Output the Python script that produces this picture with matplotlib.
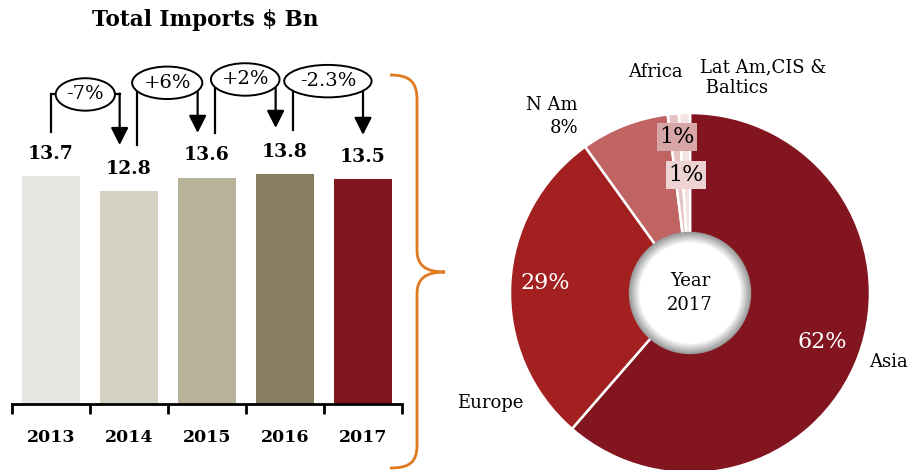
import matplotlib.pyplot as plt
import numpy as np
from matplotlib.patches import Ellipse, Circle, PathPatch
from matplotlib.path import Path

plt.rcParams['font.family'] = ['DejaVu Serif']

# bar data
years = ["2013", "2014", "2015", "2016", "2017"]
imports = [13.7, 12.8, 13.6, 13.8, 13.5]
bar_colors = ["#E8E6E0", "#D5D1C3", "#B8B29A", "#877E61", "#82161F"]
changes = ["-7%", "+6%", "+2%", "-2.3%"]

# pie data
regions = ["Asia", "Europe", "N Am", "Africa", "Lat Am,CIS &\n Baltics"]
shares = [62, 29, 8, 1, 1]
pie_colors = ["#82151F", "#A32020", "#C06363", "#E8C3C3", "#F4E2E2"]

W, H = 915, 470
fig = plt.figure(figsize=(W / 100, H / 100), dpi=100)

# ---- bar chart ----
ax = fig.add_axes([12 / W, 66 / H, 390 / W, 344 / H])
x = np.arange(len(years))
ax.bar(x, imports, width=0.74, color=bar_colors)
ax.set_xlim(-0.5, 4.5)
ax.set_ylim(0, 20.67)
for s in ["top", "right", "left"]:
    ax.spines[s].set_visible(False)
ax.spines["bottom"].set_linewidth(2)
ax.set_yticks([])
ax.set_xticks(x)
ax.set_xticklabels(years, fontsize=12.5, fontweight="bold")
ax.tick_params(axis="x", which="major", length=0, pad=18)
ax.set_xticks(np.arange(-0.5, 5, 1), minor=True)
ax.tick_params(axis="x", which="minor", length=7, width=2, direction="out")

for xi, v in zip(x, imports):
    ax.text(xi, v + 0.8, f"{v}", ha="center", va="bottom", fontsize=13.5, fontweight="bold")

# change brackets
top_y = [18.6, 19.3, 19.5, 19.4]
start_y = [16.35, 15.56, 16.29, 16.47]
tip_y = [15.56, 16.29, 16.59, 16.17]
ell_w = [0.76, 0.9, 0.88, 1.12]
for i, lab in enumerate(changes):
    x0 = i + 0.0 if i == 0 else i + 0.1
    x1 = i + 1 - 0.12 if i < 3 else i + 1.0
    xm = (x0 + x1) / 2
    ax.plot([x0, x0, x1], [start_y[i], top_y[i], top_y[i]], color="black", lw=1.6,
            solid_joinstyle="miter", clip_on=False)
    ax.annotate("", xy=(x1, tip_y[i]), xytext=(x1, top_y[i] + 0.05),
                arrowprops=dict(arrowstyle="-|>,head_length=0.75,head_width=0.38",
                                mutation_scale=14, color="black", lw=1.6,
                                shrinkA=0, shrinkB=0), annotation_clip=False)
    ax.add_patch(Ellipse((xm, top_y[i]), ell_w[i], 1.95, facecolor="white",
                         edgecolor="black", lw=1.4, clip_on=False, zorder=3))
    ax.text(xm, top_y[i], lab, ha="center", va="center", fontsize=14, zorder=4)

fig.text(205 / W, 1 - 20 / H, "Total Imports $ Bn", ha="center", va="center",
         fontsize=15.5, fontweight="bold")

# ---- brace ----
def px(a, b):
    return (a / W, 1 - b / H)

verts = [px(390, 75), px(410, 75), px(417, 82), px(417, 100),
         px(417, 250),
         px(417, 265), px(425, 272), px(445, 272),
         px(425, 272), px(417, 279), px(417, 294),
         px(417, 445),
         px(417, 462), px(410, 468), px(390, 468)]
codes = [Path.MOVETO, Path.CURVE4, Path.CURVE4, Path.CURVE4,
         Path.LINETO,
         Path.CURVE4, Path.CURVE4, Path.CURVE4,
         Path.CURVE4, Path.CURVE4, Path.CURVE4,
         Path.LINETO,
         Path.CURVE4, Path.CURVE4, Path.CURVE4]
fig.patches.append(PathPatch(Path(verts, codes), transform=fig.transFigure,
                             facecolor="none", edgecolor="#E07A1E", lw=2))

# ---- pie ----
pax = fig.add_axes([510 / W, (H - 293 - 180) / H, 360 / W, 360 / H])
pax.pie(shares, colors=pie_colors, startangle=90, counterclock=False,
        wedgeprops=dict(edgecolor="white", linewidth=1.8))
pax.set_xlim(-1, 1)
pax.set_ylim(-1, 1)
pax.set_aspect("equal")

# inner shaded circle
for r, g in zip(np.linspace(0.34, 0.28, 14), np.linspace(0.6, 1.0, 14)):
    pax.add_patch(Circle((0, 0), r, facecolor=(g, g, g), edgecolor="none", zorder=3))
pax.add_patch(Circle((0, 0), 0.28, facecolor="white", edgecolor="none", zorder=3))
pax.text(0, 0, "Year\n2017", ha="center", va="center", fontsize=13,
         linespacing=1.5, zorder=4)

pax.text(0.733, -0.272, f"{shares[0]}%", color="white", ha="center", va="center", fontsize=16)
pax.text(-0.806, 0.056, f"{shares[1]}%", color="white", ha="center", va="center", fontsize=16)
pax.text(1.1, -0.383, regions[0], ha="center", va="center", fontsize=13)
pax.text(-1.11, -0.61, regions[1], ha="center", va="center", fontsize=13)
pax.text(-0.622, 0.98, f"{regions[2]}\n{shares[2]}%", ha="right", va="center",
         fontsize=13, multialignment="right", linespacing=1.3)
pax.text(-0.194, 1.228, regions[3], ha="center", va="center", fontsize=13)
pax.text(0.056, 1.194, regions[4], ha="left", va="center", fontsize=13,
         multialignment="left", linespacing=1.2)
pax.text(-0.072, 0.867, f"{shares[3]}%", ha="center", va="center", fontsize=16,
         bbox=dict(facecolor="#D8A6A6", edgecolor="none", pad=2), zorder=5)
pax.text(-0.022, 0.656, f"{shares[4]}%", ha="center", va="center", fontsize=16,
         bbox=dict(facecolor="#EFD3D3", edgecolor="none", pad=2), zorder=5)

fig.savefig("out.png", dpi=100)
